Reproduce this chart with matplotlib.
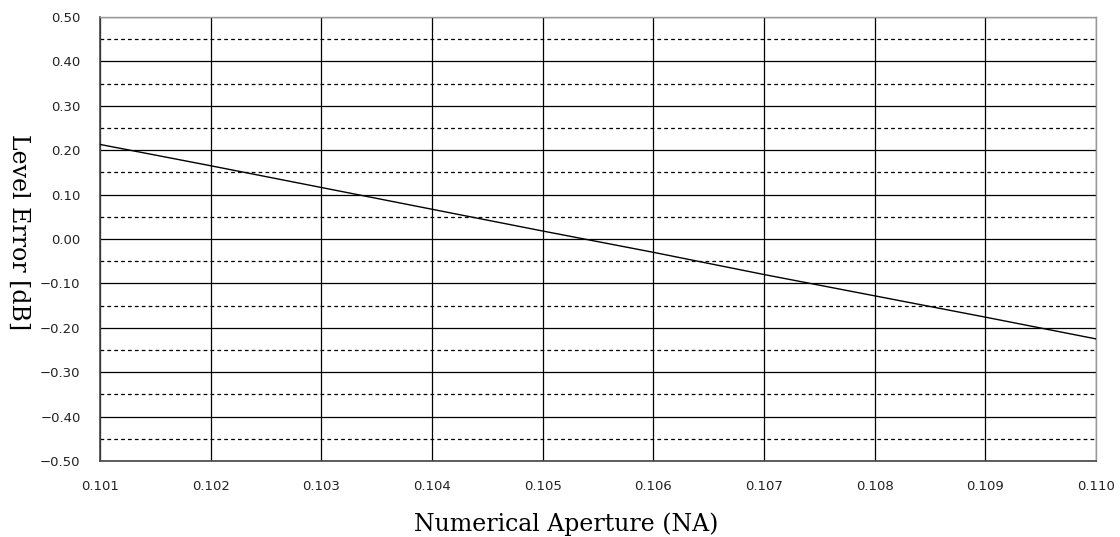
import matplotlib
matplotlib.use("Agg")
import matplotlib.pyplot as plt
from matplotlib.ticker import MultipleLocator, FuncFormatter

# Level error versus numerical aperture
na_values = [0.101, 0.102, 0.103, 0.104, 0.105, 0.106, 0.107, 0.108, 0.109, 0.110]
level_error_db = [0.213, 0.165, 0.116, 0.067, 0.018, -0.030, -0.080, -0.128, -0.176, -0.225]

x_ticks = [0.101, 0.102, 0.103, 0.104, 0.105, 0.106, 0.107, 0.108, 0.109, 0.110]
y_ticks = [-0.50, -0.40, -0.30, -0.20, -0.10, 0.00, 0.10, 0.20, 0.30, 0.40, 0.50]

W, H = 1120, 537
fig = plt.figure(figsize=(W / 100, H / 100), dpi=100)
ax = fig.add_axes([100 / W, 76 / H, 996 / W, 444 / H])

ax.plot(na_values, level_error_db, color="black", linewidth=1.0, zorder=3)

ax.set_xlim(0.101, 0.110)
ax.set_ylim(-0.5, 0.5)
ax.set_xticks(x_ticks)
ax.set_yticks(y_ticks)


def fmt(decimals):
    def f(v, _pos):
        s = f"{v:.{decimals}f}"
        if s.startswith("-"):
            s = "\u2212" + s[1:]
        if s == "\u22120.00":
            s = "0.00"
        return s
    return FuncFormatter(f)


ax.xaxis.set_major_formatter(fmt(3))
ax.yaxis.set_major_formatter(fmt(2))
ax.yaxis.set_minor_locator(MultipleLocator(0.05))

ax.grid(which="major", axis="both", color="black", linewidth=0.9, linestyle="-")
ax.grid(which="minor", axis="y", color="black", linewidth=0.9, linestyle=(0, (3, 2.5)))
ax.set_axisbelow(True)

ax.tick_params(which="both", length=0)
ax.tick_params(axis="x", pad=14, labelsize=9.5)
ax.tick_params(axis="y", pad=14, labelsize=9.5)
for lbl in ax.get_xticklabels() + ax.get_yticklabels():
    lbl.set_fontfamily("DejaVu Sans")
    lbl.set_color("#222222")

for side in ("left", "bottom"):
    ax.spines[side].set_color("#444444")
    ax.spines[side].set_linewidth(1.2)
for side in ("top", "right"):
    ax.spines[side].set_color("#999999")
    ax.spines[side].set_linewidth(1.0)

ax.set_xlabel("Numerical Aperture (NA)", family="DejaVu Serif", fontsize=17, va="center")
ax.xaxis.set_label_coords((566 - 100) / 996, (461 - 524) / 444)
ax.set_ylabel("Level Error [dB]", family="DejaVu Serif", fontsize=17, rotation=-90,
              va="center", ha="center")
ax.yaxis.set_label_coords((19 - 100) / 996, (461 - 232) / 444)

fig.savefig("out.png", dpi=100, facecolor="white")
